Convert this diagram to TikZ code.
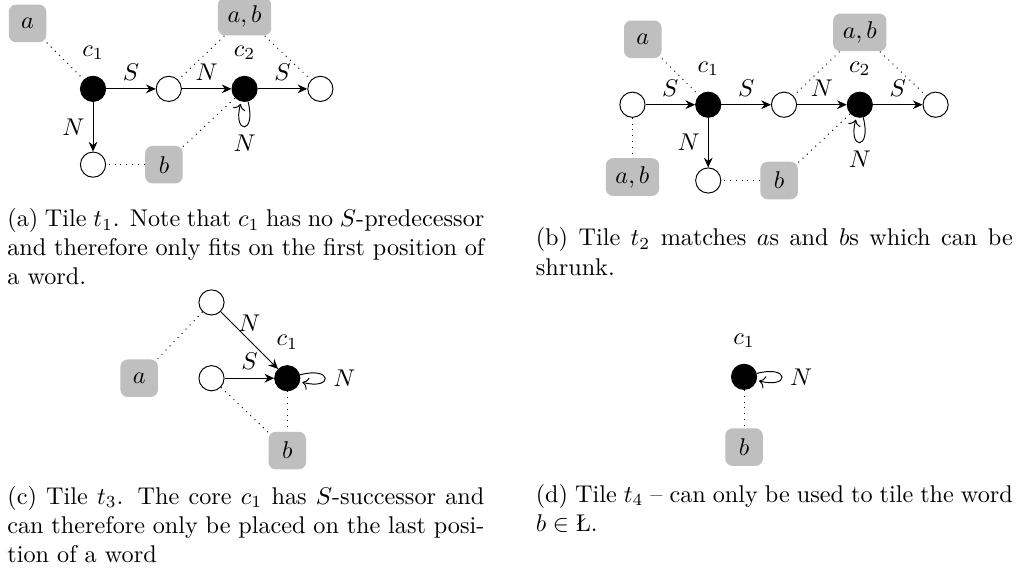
\documentclass[tikz,border=0pt]{standalone}
\usepackage{amsmath,amssymb}
\usepackage{tikz}
\usetikzlibrary{arrows.meta,positioning}

\begin{document}
\begin{tikzpicture}[
  core/.style={circle, draw, fill=black, minimum size=10.4pt, inner sep=0pt},
  cell/.style={circle, draw, fill=white, minimum size=10.4pt, inner sep=0pt},
  lbl/.style={fill=gray!50, rounded corners=3pt, minimum size=15.5pt, inner xsep=4pt},
  arr/.style={-{Stealth[length=4pt,width=3.6pt]}},
  link/.style={dotted},
  corelabel/.style={label distance=3pt},
  capt/.style={anchor=north west, text width=197pt, align=justify, inner sep=0pt},
  node distance=1.1cm, on grid
]
\useasboundingbox (0,0) rectangle (14.82,-8.29);

% (a) tile t1
\node[core, label={[corelabel]above:$c_1$}] (a-c1) at (1.35,-1.29) {};
\node[cell, right=of a-c1] (a-s1) {};
\node[core, right=of a-s1, label={[corelabel]above:$c_2$}] (a-c2) {};
\node[cell, right=of a-c2] (a-s2) {};
\node[cell, below=of a-c1] (a-n1) {};
\node[lbl, above left=0.95cm and 0.95cm of a-c1] (a-a) {$a$};
\node[lbl, above=1.05cm of a-c2] (a-ab) {$a,b$};
\node[lbl, below=1.1cm of a-s1, xshift=-2pt] (a-b) {$b$};

\draw[arr] (a-c1) -- node[above] {$S$} (a-s1);
\draw[arr] (a-s1) -- node[above] {$N$} (a-c2);
\draw[arr] (a-c2) -- node[above] {$S$} (a-s2);
\draw[arr] (a-c1) -- node[left] {$N$} (a-n1);
\path (a-c2) edge[arr, loop below] node {$N$} (a-c2);

\draw[link] (a-a) -- (a-c1);
\draw[link] (a-ab) -- (a-s1);
\draw[link] (a-ab) -- (a-s2);
\draw[link] (a-b) -- (a-c2);
\draw[link] (a-b) -- (a-n1);

\node[capt] (a-cap) at (0.10,-3.02)
  {(a) Tile $t_1$. Note that $c_1$ has no $S$-predecessor and therefore only fits on the first position of a word.};

% (b) tile t2
\node[core, label={[corelabel]above:$c_1$}] (b-c1) at (10.28,-1.52) {};
\node[cell, left=of b-c1] (b-s0) {};
\node[cell, right=of b-c1] (b-s1) {};
\node[core, right=of b-s1, label={[corelabel]above:$c_2$}] (b-c2) {};
\node[cell, right=of b-c2] (b-s2) {};
\node[cell, below=of b-c1] (b-n1) {};
\node[lbl, above left=0.95cm and 0.95cm of b-c1] (b-a) {$a$};
\node[lbl, below=1.05cm of b-s0] (b-ab2) {$a,b$};
\node[lbl, above=1.05cm of b-c2] (b-ab) {$a,b$};
\node[lbl, below=1.1cm of b-s1, xshift=-2pt] (b-b) {$b$};

\draw[arr] (b-s0) -- node[above] {$S$} (b-c1);
\draw[arr] (b-c1) -- node[above] {$S$} (b-s1);
\draw[arr] (b-s1) -- node[above] {$N$} (b-c2);
\draw[arr] (b-c2) -- node[above] {$S$} (b-s2);
\draw[arr] (b-c1) -- node[left] {$N$} (b-n1);
\path (b-c2) edge[arr, loop below] node {$N$} (b-c2);

\draw[link] (b-a) -- (b-c1);
\draw[link] (b-s0) -- (b-ab2);
\draw[link] (b-ab) -- (b-s1);
\draw[link] (b-ab) -- (b-s2);
\draw[link] (b-b) -- (b-c2);
\draw[link] (b-b) -- (b-n1);

\node[capt] (b-cap) at (7.77,-3.30)
  {(b) Tile $t_2$ matches $a$s and $b$s which can be shrunk.};

% (c) tile t3
\node[core, label={[corelabel]above:$c_1$}] (c-c1) at (4.17,-5.49) {};
\node[cell, left=of c-c1] (c-s1) {};
\node[cell, above=of c-s1] (c-n1) {};
\node[lbl, left=1.05cm of c-s1] (c-a) {$a$};
\node[lbl, below=1.05cm of c-c1] (c-b) {$b$};

\draw[arr] (c-s1) -- node[above] {$S$} (c-c1);
\draw[arr] (c-n1) -- node[above] {$N$} (c-c1);
\path (c-c1) edge[arr, loop right] node {$N$} (c-c1);

\draw[link] (c-n1) -- (c-a);
\draw[link] (c-s1) -- (c-b);
\draw[link] (c-c1) -- (c-b);

\node[capt] (c-cap) at (0.10,-7.05)
  {(c) Tile $t_3$. The core $c_1$ has $S$-successor and can therefore only be placed on the last position of a word};

% (d) tile t4
\node[core, label={[corelabel]above:$c_1$}] (d-c1) at (10.80,-5.47) {};
\node[lbl, below=1.02cm of d-c1] (d-b) {$b$};

\path (d-c1) edge[arr, loop right] node {$N$} (d-c1);
\draw[link] (d-c1) -- (d-b);

\node[capt] (d-cap) at (7.77,-7.02)
  {(d) Tile $t_4$ -- can only be used to tile the word $b \in \text{\L}$.};
\end{tikzpicture}
\end{document}
